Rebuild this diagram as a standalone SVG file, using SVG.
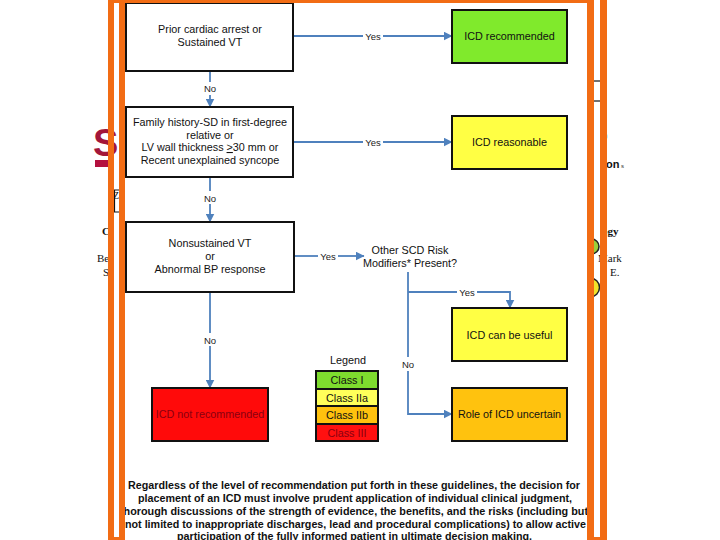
<svg xmlns="http://www.w3.org/2000/svg" width="720" height="540" viewBox="0 0 720 540">
<defs>
<marker id="ah" markerUnits="userSpaceOnUse" markerWidth="9" markerHeight="9" viewBox="0 0 9 9" refX="8.5" refY="4.5" orient="auto">
<path d="M0,0 L9,4.5 L0,9 Z" fill="#4F81BD"/>
</marker>
</defs>
<style>
text{font-family:"Liberation Sans",Arial,sans-serif;}
.t{font-size:10.8px;fill:#111;text-anchor:middle;}
.lb{font-size:9.5px;fill:#222;text-anchor:middle;}
.box{fill:#fff;stroke:#111;stroke-width:2;}
.cb{stroke:#111;stroke-width:2;}
.c{fill:none;stroke:#4F81BD;stroke-width:1.8;}
.bt{font-size:11px;font-weight:bold;fill:#111;text-anchor:middle;}
.bg{font-family:"Liberation Serif","Times New Roman",serif;font-size:11px;fill:#111;}
.or{fill:#F26C14;}
</style>
<rect x="0" y="0" width="720" height="540" fill="#fff"/>

<!-- background slide remnants -->
<g id="background">
<text x="93" y="156" style="font-size:38px;font-weight:bold;fill:#A3163A">S</text>
<rect x="95" y="160" width="14" height="7" fill="#B3103E"/>
<text x="102" y="235" class="bg" style="font-weight:bold">C</text>
<text x="97" y="262" class="bg">Be</text>
<text x="103" y="276" class="bg">S</text>
<text x="113" y="199" class="bg" style="font-size:10px">Z</text>
<path d="M120,190 H114.5 V212 H120" fill="none" stroke="#111" stroke-width="1.2"/>
<line x1="590" y1="81" x2="604" y2="81" stroke="#111" stroke-width="1.2"/>
<line x1="590" y1="101" x2="604" y2="101" stroke="#111" stroke-width="1.2"/>
<text x="604" y="139" class="bg" style="font-size:10px">)</text>
<text x="606" y="168" style="font-size:11px;font-weight:bold;fill:#111">on</text>
<text x="621" y="168" style="font-size:6px;fill:#333">s</text>
<text x="602" y="235" class="bg" style="font-weight:bold">ogy</text>
<text x="598" y="262" class="bg">Mark</text>
<text x="610" y="276" class="bg">E.</text>
<circle cx="591.5" cy="246.5" r="7.5" fill="#9BCF3A" stroke="#222" stroke-width="1.5"/>
<circle cx="590" cy="287.5" r="9.5" fill="#F2E22A" stroke="#222" stroke-width="1.5"/>
</g>

<rect x="125" y="0" width="462" height="540" fill="#fff"/>

<!-- connectors -->
<g id="connectors">
<line class="c" x1="210" y1="71" x2="210" y2="82"/>
<line class="c" x1="210" y1="95" x2="210" y2="107" marker-end="url(#ah)"/>
<text class="lb" x="210" y="92">No</text>

<line class="c" x1="293" y1="36" x2="363" y2="36"/>
<line class="c" x1="383" y1="36" x2="452" y2="36" marker-end="url(#ah)"/>
<text class="lb" x="373" y="39.5">Yes</text>

<line class="c" x1="293" y1="142" x2="363" y2="142"/>
<line class="c" x1="383" y1="142" x2="452" y2="142" marker-end="url(#ah)"/>
<text class="lb" x="373" y="145.5">Yes</text>

<line class="c" x1="210" y1="177" x2="210" y2="191"/>
<line class="c" x1="210" y1="204" x2="210" y2="222" marker-end="url(#ah)"/>
<text class="lb" x="210" y="202">No</text>

<line class="c" x1="294" y1="256" x2="318" y2="256"/>
<line class="c" x1="338" y1="256" x2="364" y2="256" marker-end="url(#ah)"/>
<text class="lb" x="328" y="259.5">Yes</text>

<line class="c" x1="408" y1="272" x2="408" y2="357"/>
<path class="c" d="M408,371 V414 H452" marker-end="url(#ah)"/>
<text class="lb" x="408" y="367.5">No</text>

<line class="c" x1="408" y1="292" x2="457" y2="292"/>
<path class="c" d="M477,292 H510 V308" marker-end="url(#ah)"/>
<text class="lb" x="467" y="295.5">Yes</text>

<line class="c" x1="210" y1="292" x2="210" y2="333"/>
<line class="c" x1="210" y1="346" x2="210" y2="388" marker-end="url(#ah)"/>
<text class="lb" x="210" y="343.5">No</text>
</g>

<!-- nodes -->
<g id="n-prior">
<rect class="box" x="126" y="3" width="167" height="68"/>
<text class="t" x="210" y="33">Prior cardiac arrest or</text>
<text class="t" x="210" y="46">Sustained VT</text>
</g>
<g id="n-family">
<rect class="box" x="126" y="107" width="167" height="70"/>
<text class="t" x="210" y="126">Family history-SD in first-degree</text>
<text class="t" x="210" y="139">relative or</text>
<text class="t" x="210" y="151">LV wall thickness <tspan text-decoration="underline">&gt;</tspan>30 mm or</text>
<text class="t" x="210" y="164">Recent unexplained syncope</text>
</g>
<g id="n-nsvt">
<rect class="box" x="126" y="222" width="168" height="70"/>
<text class="t" x="210" y="247">Nonsustained VT</text>
<text class="t" x="210" y="260">or</text>
<text class="t" x="210" y="273">Abnormal BP response</text>
</g>
<g id="n-other">
<text class="t" x="410" y="254">Other SCD Risk</text>
<text class="t" x="410" y="267">Modifiers* Present?</text>
</g>
<g id="n-recommended">
<rect class="cb" x="452" y="10" width="115" height="53" fill="#80EA2C"/>
<text class="t" x="509.5" y="40">ICD recommended</text>
</g>
<g id="n-reasonable">
<rect class="cb" x="452" y="116" width="115" height="53" fill="#FFFF44"/>
<text class="t" x="509.5" y="146">ICD reasonable</text>
</g>
<g id="n-useful">
<rect class="cb" x="452" y="308" width="115" height="53" fill="#FFFF44"/>
<text class="t" x="509.5" y="338.5">ICD can be useful</text>
</g>
<g id="n-uncertain">
<rect class="cb" x="452" y="388" width="115" height="53" fill="#FFC20E"/>
<text class="t" x="509.5" y="418">Role of ICD uncertain</text>
</g>
<g id="n-notrec">
<rect class="cb" x="152" y="388" width="116" height="53" fill="#FF0A0A"/>
<text class="t" x="210" y="418" style="fill:#8A0010">ICD not recommended</text>
</g>
<g id="legend">
<text class="t" x="348" y="364">Legend</text>
<rect class="cb" x="316" y="371" width="62" height="18" fill="#7EDC2E" stroke-width="1.5"/>
<rect class="cb" x="316" y="389" width="62" height="17" fill="#FFFF5A" stroke-width="1.5"/>
<rect class="cb" x="316" y="406" width="62" height="18" fill="#FFC20E" stroke-width="1.5"/>
<rect class="cb" x="316" y="424" width="62" height="17" fill="#FF1010" stroke-width="1.5"/>
<text class="t" x="347" y="384">Class I</text>
<text class="t" x="347" y="401.5">Class IIa</text>
<text class="t" x="347" y="419">Class IIb</text>
<text class="t" x="347" y="436.5" style="fill:#8A0010">Class III</text>
</g>

<g id="note">
<text class="bt" x="354" y="489" textLength="452" lengthAdjust="spacingAndGlyphs">Regardless of the level of recommendation put forth in these guidelines, the decision for</text>
<text class="bt" x="355" y="502" textLength="434" lengthAdjust="spacingAndGlyphs">placement of an ICD must involve prudent application of individual clinical judgment,</text>
<text class="bt" x="354" y="515" textLength="468" lengthAdjust="spacingAndGlyphs">thorough discussions of the strength of evidence, the benefits, and the risks (including but</text>
<text class="bt" x="355.5" y="528" textLength="461" lengthAdjust="spacingAndGlyphs">not limited to inappropriate discharges, lead and procedural complications) to allow active</text>
<text class="bt" x="354.5" y="539.5" textLength="355" lengthAdjust="spacingAndGlyphs">participation of the fully informed patient in ultimate decision making.</text>
</g>

<!-- orange frame -->
<g id="frame">
<rect class="or" x="108" y="0" width="6" height="540"/>
<rect class="or" x="119" y="0" width="6" height="540"/>
<rect class="or" x="587" y="0" width="7" height="540"/>
<rect class="or" x="600" y="0" width="7" height="540"/>
<rect class="or" x="108" y="0" width="486" height="3"/>
<rect class="or" x="114" y="537" width="5" height="3"/>
<rect class="or" x="594" y="537" width="6" height="3"/>
</g>
</svg>
